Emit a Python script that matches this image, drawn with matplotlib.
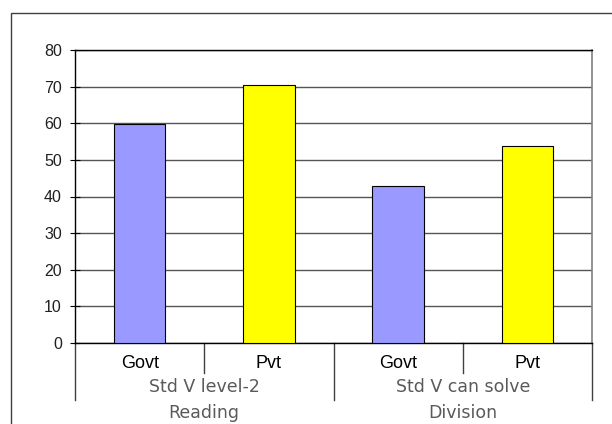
import matplotlib
matplotlib.use("Agg")
import matplotlib.pyplot as plt
from matplotlib.patches import Rectangle
from matplotlib.lines import Line2D
import matplotlib.transforms as mtransforms

plt.rcParams["font.family"] = ["Liberation Sans", "DejaVu Sans"]

# Data
bar_labels = ["Govt", "Pvt", "Govt", "Pvt"]
values = [59.7, 70.4, 42.8, 53.9]
bar_colors = ["#9999FF", "#FFFF00", "#9999FF", "#FFFF00"]
groups = ["Std V level-2\nReading", "Std V can solve\nDivision"]
yticks = [0, 10, 20, 30, 40, 50, 60, 70, 80]

W, H = 612, 424
fig = plt.figure(figsize=(W / 100, H / 100), dpi=100)
ax = fig.add_axes([75 / W, 1 - 343 / H, (592 - 75) / W, (343 - 50) / H])

# outer chart frame (cropped on right and bottom)
fig.patches.append(Rectangle((11 / W, -0.1), 1.2, 1 - 13 / H + 0.1,
                             transform=fig.transFigure, fill=False,
                             edgecolor="#404040", lw=1.0))

x = list(range(len(values)))
ax.bar(x, values, width=0.4, color=bar_colors, edgecolor="black", lw=0.8, zorder=3)

ax.set_xlim(-0.5, len(values) - 0.5)
ax.set_ylim(0, 80)
ax.set_yticks(yticks)
ax.yaxis.grid(True, color="#555555", lw=1.0, zorder=0)
ax.set_axisbelow(True)
ax.tick_params(axis="y", direction="inout", length=7, width=0.8, labelsize=11.5,
               colors="black", labelcolor="#202020", pad=6)
ax.set_xticks([])
for s in ["left", "bottom", "top"]:
    ax.spines[s].set_color("black")
    ax.spines[s].set_linewidth(1.0)
ax.spines["right"].set_color("#808080")
ax.spines["right"].set_linewidth(1.2)

ph = 343 - 50
trans = mtransforms.blended_transform_factory(ax.transData, ax.transAxes)

# category labels and separators
for i, lab in enumerate(bar_labels):
    ax.text(i, -20 / ph, lab, transform=trans, ha="center", va="center",
            fontsize=13, color="black")
for b in [0.5, 2.5]:
    ax.add_line(Line2D([b, b], [0, -30 / ph], transform=trans, color="#404040",
                       lw=1.0, clip_on=False))
for b in [-0.5, 1.5, 3.5]:
    ax.add_line(Line2D([b, b], [0, -57 / ph], transform=trans, color="#404040",
                       lw=1.0, clip_on=False))

for g, lab in enumerate(groups):
    ax.text(2 * g + 0.5, -35 / ph, lab, transform=trans, ha="center", va="top",
            fontsize=12.5, color="#5a5a5a", linespacing=1.55,
            family=["DejaVu Sans"])

fig.savefig("out.png", dpi=100)
